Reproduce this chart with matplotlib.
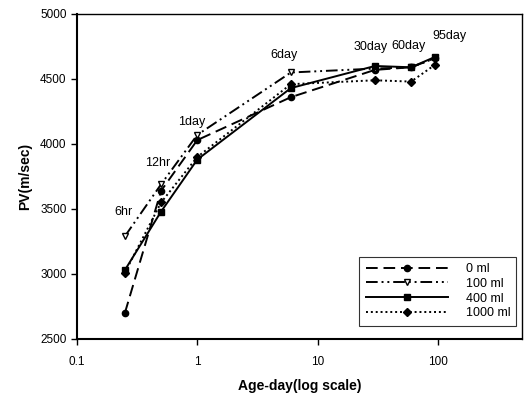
import matplotlib
matplotlib.use("Agg")
import matplotlib.pyplot as plt

plt.rcParams['font.family'] = ['Liberation Sans', 'DejaVu Sans']

age_days = [0.25, 0.5, 1, 6, 30, 60, 95]
age_labels = ["6hr", "12hr", "1day", "6day", "30day", "60day", "95day"]
pv_0ml = [2700, 3640, 4030, 4360, 4570, 4590, 4660]
pv_100ml = [3290, 3690, 4070, 4550, 4580, 4590, 4660]
pv_400ml = [3030, 3480, 3880, 4430, 4600, 4590, 4670]
pv_1000ml = [3010, 3550, 3900, 4460, 4490, 4480, 4610]
series_names = ["0 ml", "100 ml", "400 ml", "1000 ml"]
y_ticks = [2500, 3000, 3500, 4000, 4500, 5000]
x_ticks = [0.1, 1, 10, 100]
x_tick_labels = ["0.1", "1", "10", "100"]

# label anchor positions (data coords) for age annotations
label_x = [0.242, 0.473, 0.89, 5.3, 27.6, 57.3, 126]
label_y = [3431, 3808, 4123, 4638, 4700, 4708, 4785]

fig = plt.figure(figsize=(5.25, 3.95), dpi=100)
ax = fig.add_axes([0.1467, 0.1418, 0.8473, 0.8228])

styles = [
    dict(linestyle=(0, (6, 3)), marker='o', markersize=4.5),
    dict(linestyle=(0, (6, 2, 1, 2, 1, 2)), marker='v', markersize=5, markerfacecolor='white'),
    dict(linestyle='-', marker='s', markersize=5),
    dict(linestyle=(0, (1, 1.5)), marker='D', markersize=4.5),
]
for vals, name, st in zip([pv_0ml, pv_100ml, pv_400ml, pv_1000ml], series_names, styles):
    ax.plot(age_days, vals, color='black', linewidth=1.4, markeredgecolor='black',
            markerfacecolor=st.pop('markerfacecolor', 'black'), label=name, **st)

for lx, ly, txt in zip(label_x, label_y, age_labels):
    ax.text(lx, ly, txt, fontsize=9, ha='center', va='bottom')

ax.set_xscale('log')
ax.set_xlim(0.1, 500)
ax.set_ylim(2500, 5000)
ax.set_xticks(x_ticks)
ax.set_xticklabels(x_tick_labels)
ax.xaxis.set_minor_locator(matplotlib.ticker.NullLocator())
ax.set_yticks(y_ticks)
ax.tick_params(axis='both', labelsize=8.5, direction='out', length=4, width=1)
ax.tick_params(axis='x', pad=8)

for sp in ['left', 'bottom']:
    ax.spines[sp].set_linewidth(1.5)
for sp in ['top', 'right']:
    ax.spines[sp].set_linewidth(1.0)

ax.set_xlabel("Age-day(log scale)", fontsize=10, fontweight='bold', labelpad=8)
ax.set_ylabel("PV(m/sec)", fontsize=10, fontweight='bold', labelpad=6)

leg = ax.legend(loc='lower right', bbox_to_anchor=(1.002, 0.022), fontsize=9, handlelength=6.6,
                frameon=True, fancybox=False, edgecolor='black', borderpad=0.5,
                labelspacing=0.22, handletextpad=1.4, markerscale=1.0, alignment='right')
leg.get_frame().set_linewidth(0.8)

fig.savefig("out.png", dpi=100)
